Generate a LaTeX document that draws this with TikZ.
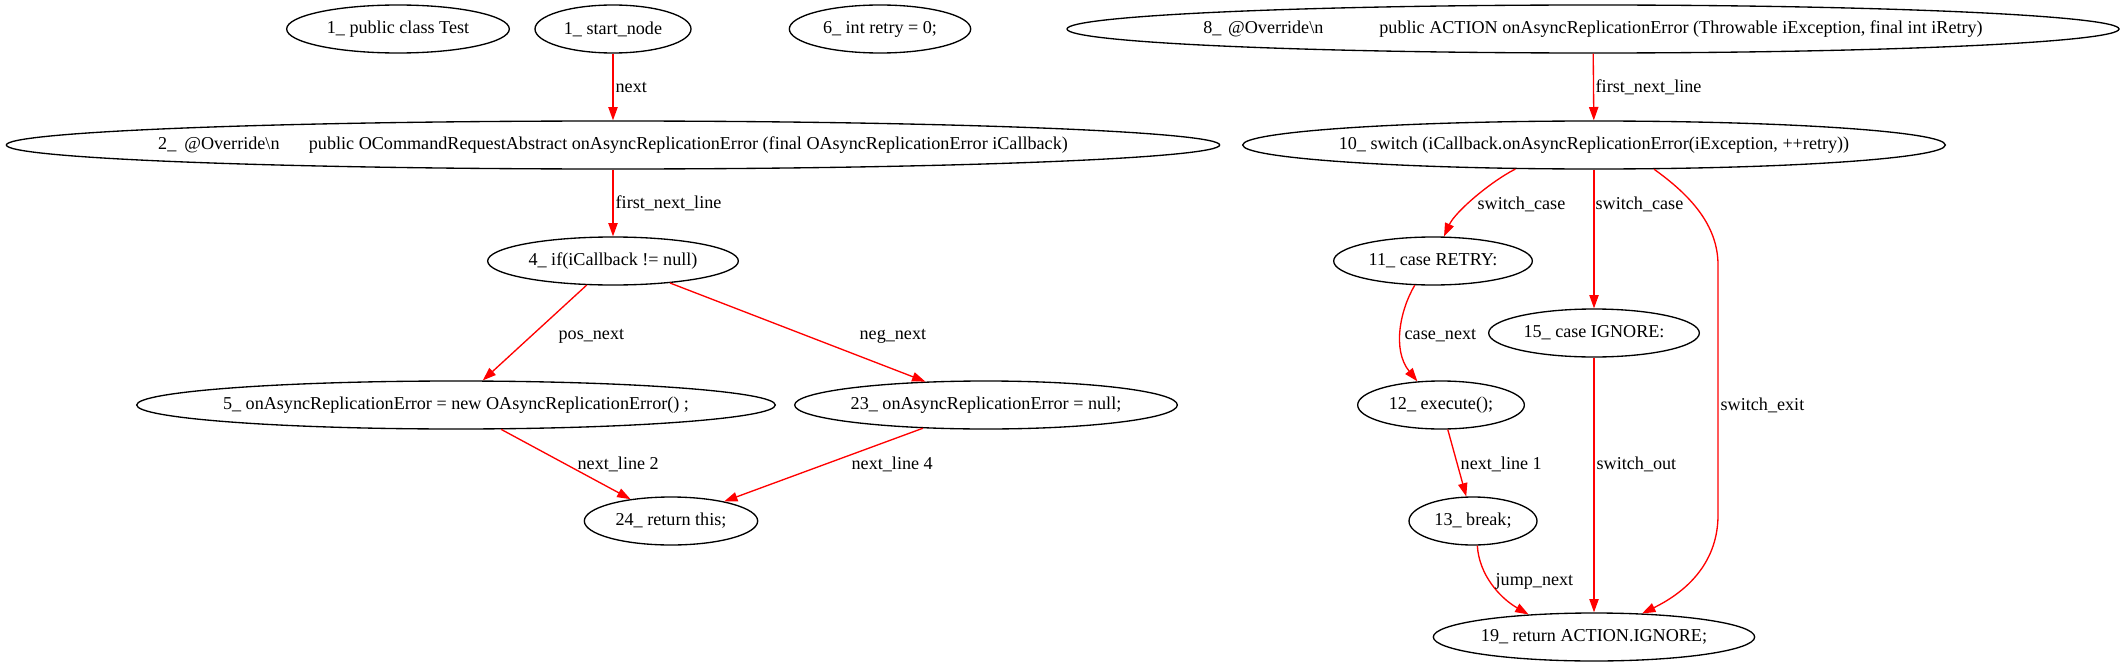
\documentclass[tikz,border=0pt]{standalone}
\usepackage{fontspec}
\setmainfont{Liberation Serif}
\usetikzlibrary{shapes.geometric,arrows.meta}

\begin{document}
\begin{tikzpicture}[x=0.75pt, y=-0.75pt, >={Triangle[length=10pt,width=7pt]},
    stmt/.style={ellipse, draw, line width=1pt, minimum height=36pt, inner ysep=0pt, inner xsep=-60pt, font=\fontsize{13.6}{16}\selectfont},
    flow/.style={->, red, line width=1pt},
    lab/.style={anchor=base west, inner sep=0pt, text=black, font=\fontsize{13.6}{16}\selectfont}]
    \useasboundingbox (0,0) rectangle (2123,667);

    % left method
    \node[stmt, minimum width=167pt] (n1) at (398,29) {1\_ public class Test};
    \node[stmt, minimum width=117pt] (nstart) at (613,29) {1\_ start\_node};
    \node[stmt, minimum width=136pt] (n6) at (880,29) {6\_ int retry = 0;};
    \node[stmt, minimum width=910pt] (n2) at (613,145) {2\_\hspace{6pt}@Override\textbackslash n\hspace{22pt}public OCommandRequestAbstract onAsyncReplicationError (final OAsyncReplicationError iCallback)};
    \node[stmt, minimum width=188pt] (n4) at (613,261) {4\_ if(iCallback != null)};
    \node[stmt, minimum width=479pt] (n5) at (456,405) {5\_ onAsyncReplicationError = new OAsyncReplicationError() ;};
    \node[stmt, minimum width=287pt] (n23) at (986,405) {23\_ onAsyncReplicationError = null;};
    \node[stmt, minimum width=130pt] (n24) at (671,521) {24\_ return this;};

    % right method
    \node[stmt, minimum width=789pt] (n8) at (1593,29) {8\_\hspace{5pt}@Override\textbackslash n\hspace{42pt}public ACTION onAsyncReplicationError (Throwable iException, final int iRetry)};
    \node[stmt, minimum width=527pt] (n10) at (1594,145) {10\_ switch (iCallback.onAsyncReplicationError(iException, ++retry))};
    \node[stmt, minimum width=149pt] (n11) at (1433,261) {11\_ case RETRY:};
    \node[stmt, minimum width=158pt] (n15) at (1594,333) {15\_ case IGNORE:};
    \node[stmt, minimum width=125pt] (n12) at (1441,405) {12\_ execute();};
    \node[stmt, minimum width=96pt] (n13) at (1473,521) {13\_ break;};
    \node[stmt, minimum width=241pt] (n19) at (1594,637) {19\_ return ACTION.IGNORE;};

    \draw[flow] (nstart) -- (n2) node[lab] (lnext) at (615,93) {next};
    \draw[flow] (n2) -- (n4) node[lab] (lfirst) at (615,208) {first\_next\_line};
    \draw[flow] (n4) -- (n5) node[lab] (lpos) at (558,339) {pos\_next};
    \draw[flow] (n4) -- (n23) node[lab] (lneg) at (859,339) {neg\_next};
    \draw[flow] (n5) -- (n24) node[lab] (lnl2) at (577,469) {next\_line 2};
    \draw[flow] (n23) -- (n24) node[lab] (lnl4) at (851,469) {next\_line 4};

    \draw[flow] (n8) -- (n10) node[lab] (lfirstb) at (1595,93) {first\_next\_line};
    \draw[flow] (n10.197) .. controls (1490,182) and (1455,212) .. (n11) node[lab] (lcase) at (1477,209) {switch\_case};
    \draw[flow] (n10) -- (n15) node[lab] (lcaseb) at (1595,209) {switch\_case};
    \draw[flow] (n10.-22) .. controls (1690,195) and (1718,225) .. (1718,265) -- (1718,515)
        .. controls (1718,560) and (1690,590) .. (n19) node[lab] (lexit) at (1720,410) {switch\_exit};
    \draw[flow] (n11.233) .. controls (1400,310) and (1392,350) .. (n12.135) node[lab] (lcnext) at (1404,339) {case\_next};
    \draw[flow] (n12) -- (n13) node[lab] (lnl1) at (1460,469) {next\_line 1};
    \draw[flow] (n13.-80) .. controls (1479,575) and (1500,598) .. (n19.161) node[lab] (ljump) at (1495,585) {jump\_next};
    \draw[flow] (n15) -- (n19) node[lab] (lout) at (1596,469) {switch\_out};
\end{tikzpicture}
\end{document}
